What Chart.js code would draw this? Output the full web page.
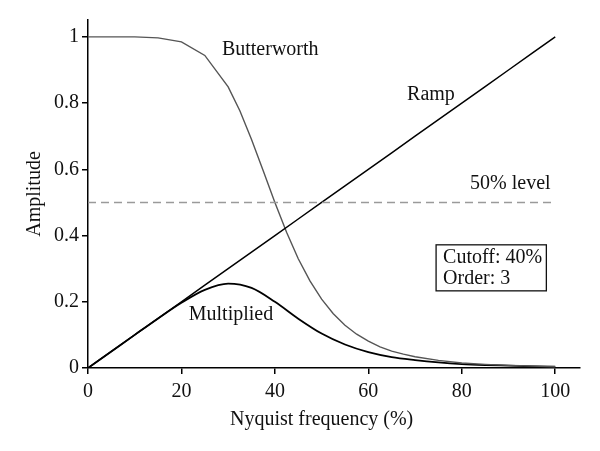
<!DOCTYPE html>
<html>
<head>
<meta charset="utf-8">
<script src="https://cdn.jsdelivr.net/npm/chart.js@4"></script>
<style>
html,body{margin:0;padding:0;background:#fff;}
#wrap{width:600px;height:451px;}
</style>
</head>
<body>
<div id="wrap"><canvas id="c" width="600" height="451"></canvas></div>
<script>
const freq = [0,5,10,15,20,25,30,35,40,45,50,55,60,65,70,75,80,85,90,95,100];
const freqB = [0,5,10,15,20,25,30,32.5,35,37.5,40,42.5,45,47.5,50,52.5,55,57.5,60,62.5,65,67.5,70,75,80,85,90,95,100];
const butterworth = [1.0,1.0,1.0,0.997,0.985,0.944,0.849,0.777,0.69,0.596,0.5,0.41,0.33,0.263,0.208,0.164,0.129,0.102,0.081,0.064,0.051,0.042,0.034,0.023,0.015,0.011,0.008,0.006,0.004];
const ramp = [0,0.05,0.1,0.15,0.2,0.25,0.3,0.35,0.4,0.45,0.5,0.55,0.6,0.65,0.7,0.75,0.8,0.85,0.9,0.95,1.0];
const multiplied = [0,0.05,0.1,0.1496,0.197,0.236,0.255,0.242,0.2,0.149,0.104,0.071,0.048,0.033,0.024,0.017,0.012,0.009,0.007,0.005,0.004];
const halfLevel = [0.5,0.5];
const halfX = [0,100];
const xTicks = [0,20,40,60,80,100];
const yTicks = [0,0.2,0.4,0.6,0.8,1];
const xTitle = 'Nyquist frequency (%)';
const yTitle = 'Amplitude';
const labels = [
  {text:'Butterworth', x:39.0, y:0.946},
  {text:'Ramp', x:73.4, y:0.81},
  {text:'50% level', x:90.4, y:0.541},
  {text:'Multiplied', x:30.6, y:0.145}
];
const boxLines = ['Cutoff: 40%','Order: 3'];

const FONT = '"Liberation Serif", "Times New Roman", serif';
const pts = (ys, xs) => ys.map((v,i)=>({x:(xs||freq)[i], y:v}));

const annot = {
  id:'annot',
  afterDatasetsDraw(chart){
    const ctx = chart.ctx, xs = chart.scales.x, ys = chart.scales.y;
    ctx.save();
    ctx.fillStyle = '#111';
    ctx.font = '20px ' + FONT;
    ctx.textAlign = 'center';
    ctx.textBaseline = 'alphabetic';
    labels.forEach(l => ctx.fillText(l.text, xs.getPixelForValue(l.x), ys.getPixelForValue(l.y)));
    // box
    const bx0 = xs.getPixelForValue(74.5), bx1 = xs.getPixelForValue(98.1);
    const by0 = ys.getPixelForValue(0.372), by1 = ys.getPixelForValue(0.233);
    ctx.fillStyle = '#fff';
    ctx.fillRect(bx0, by0, bx1-bx0, by1-by0);
    ctx.strokeStyle = '#111';
    ctx.lineWidth = 1.3;
    ctx.strokeRect(bx0, by0, bx1-bx0, by1-by0);
    ctx.fillStyle = '#111';
    ctx.textAlign = 'left';
    ctx.fillText(boxLines[0], bx0+7, by0+18);
    ctx.fillText(boxLines[1], bx0+7, by0+39);
    // axis titles
    ctx.textAlign = 'center';
    ctx.fillText(xTitle, (xs.getPixelForValue(0)+xs.getPixelForValue(100))/2, 425);
    ctx.translate(40, (chart.chartArea.top+chart.chartArea.bottom)/2);
    ctx.rotate(-Math.PI/2);
    ctx.fillText(yTitle, 0, 0);
    ctx.restore();
  }
};

new Chart(document.getElementById('c'), {
  type:'line',
  data:{
    datasets:[
      {label:'50% level', data:pts(halfLevel, halfX), borderColor:'#9a9a9a', borderWidth:1.5, borderDash:[8,5], pointRadius:0, tension:0},
      {label:'Ramp', data:pts(ramp), borderColor:'#000', borderWidth:1.5, pointRadius:0, tension:0},
      {label:'Butterworth', data:pts(butterworth, freqB), borderColor:'#555', borderWidth:1.4, pointRadius:0, tension:0},
      {label:'Multiplied', data:pts(multiplied), borderColor:'#000', borderWidth:1.8, pointRadius:0, cubicInterpolationMode:'monotone'}
    ]
  },
  options:{
    responsive:false,
    animation:false,
    layout:{padding:{left:0, right:20, top:20, bottom:0}},
    plugins:{legend:{display:false}, tooltip:{enabled:false}},
    scales:{
      x:{
        type:'linear', min:0, max:105.3,
        afterBuildTicks(s){ s.ticks = xTicks.map(v=>({value:v})); },
        afterFit(s){ s.height = 83; },
        grid:{drawOnChartArea:false, drawTicks:true, tickLength:6, color:'#000', lineWidth:1.5},
        border:{display:true, color:'#000', width:1.5},
        ticks:{color:'#111', font:{family:FONT, size:20}, padding:6, maxRotation:0, autoSkip:false}
      },
      y:{
        type:'linear', min:0, max:1.051,
        afterBuildTicks(s){ s.ticks = yTicks.map(v=>({value:v})); },
        afterFit(s){ s.width = 88; },
        grid:{drawOnChartArea:false, drawTicks:true, tickLength:6, color:'#000', lineWidth:1.5},
        border:{display:true, color:'#000', width:1.5},
        ticks:{color:'#111', font:{family:FONT, size:20}, padding:3, autoSkip:false,
          callback:v=>String(v)}
      }
    }
  },
  plugins:[annot]
});
</script>
</body>
</html>
